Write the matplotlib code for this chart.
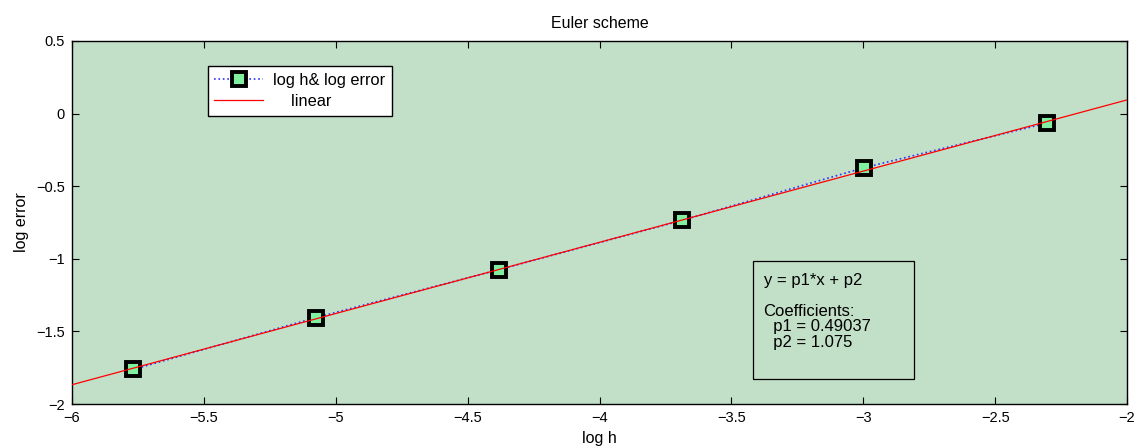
import numpy as np
import matplotlib
matplotlib.use("Agg")
import matplotlib.pyplot as plt
from matplotlib.patches import Rectangle

plt.rcParams["font.family"] = ["Liberation Sans", "DejaVu Sans"]

# data
log_h = [-5.7683, -5.0752, -4.3820, -3.6889, -2.9957, -2.3026]
log_err = [-1.762, -1.405, -1.075, -0.736, -0.372, -0.065]
p1 = 0.49037
p2 = 1.075
fit_x = [-6, -2]
xtick_labels = ["\u22126", "\u22125.5", "\u22125", "\u22124.5", "\u22124",
                "\u22123.5", "\u22123", "\u22122.5", "\u22122"]
ytick_labels = ["\u22122", "\u22121.5", "\u22121", "\u22120.5", "0", "0.5"]
box_lines = ["y = p1*x + p2", "Coefficients:", "  p1 = 0.49037", "  p2 = 1.075"]

fig = plt.figure(figsize=(11.35, 4.47), dpi=100)
ax = fig.add_axes([72 / 1135, 43 / 447, 1055 / 1135, 363 / 447])
ax.set_facecolor("#c2dfc7")
for s in ax.spines.values():
    s.set_linewidth(1.0)

ax.plot(log_h, log_err, ":", color="#3030ff", lw=1.2, marker="s", ms=10,
        mfc="#80f0a0", mec="black", mew=2.8, label="log h& log error", zorder=3)
fx = np.array(fit_x)
ax.plot(fx, p1 * fx + p2, "-", color="red", lw=0.9, label="    linear", zorder=4)

ax.set_xlim(-6, -2)
ax.set_ylim(-2, 0.5)
ax.set_xticks(np.arange(-6, -1.9, 0.5))
ax.set_yticks(np.arange(-2, 0.6, 0.5))
ax.set_xticklabels(xtick_labels)
ax.set_yticklabels(ytick_labels)
ax.tick_params(direction="in", top=True, right=True, length=5, labelsize=10.5, pad=5)
ax.set_xlabel("log h", fontsize=11.5, labelpad=4)
ax.set_ylabel("log error", fontsize=11.5, labelpad=5)
ax.set_title("Euler scheme", fontsize=11.5, pad=9)

leg = ax.legend(loc="upper left", bbox_to_anchor=(0.1285, 0.931), fontsize=11.8,
                fancybox=False, edgecolor="black", framealpha=1, borderaxespad=0,
                handlelength=3.0, handletextpad=0.6, borderpad=0.4, labelspacing=0.4)
leg.get_frame().set_linewidth(1.0)

# coefficients box
ax.add_patch(Rectangle((0.6458, 0.069), 0.1525, 0.325, transform=ax.transAxes,
                       fill=False, ec="black", lw=0.9, zorder=5))
line_y = [280, 312, 327, 342]
for txt, yp in zip(box_lines, line_y):
    ax.text(0.6555, (404 - yp) / 363, txt, transform=ax.transAxes, fontsize=12,
            va="center", ha="left", zorder=6)

fig.savefig("out.png", dpi=100)
